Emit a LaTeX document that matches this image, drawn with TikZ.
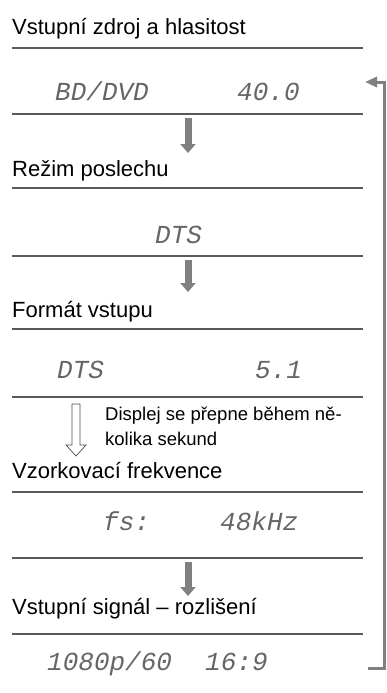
\documentclass[tikz,border=0pt]{standalone}
\usepackage{fontspec}
\setmainfont{Liberation Sans}
\newfontfamily\dispfont{Liberation Mono}
\usetikzlibrary{arrows.meta}

\begin{document}
\begin{tikzpicture}[x=1pt, y=-1pt,
  title/.style={anchor=base west, inner sep=0pt,
    font=\fontsize{22}{24}\selectfont},
  note/.style={anchor=base west, inner sep=0pt,
    font=\fontsize{18.5}{22}\selectfont},
  disp/.style={anchor=base west, inner sep=0pt, text=black!60,
    font=\dispfont\itshape\fontsize{26}{28}\selectfont},
  rule/.style={line width=1.2pt, black!65},
  flowarr/.style={line width=7pt, black!50,
    -{Triangle[width=15pt, length=9pt]}},
  looparr/.style={line width=3pt, black!50,
    -{Triangle[width=10pt, length=12pt]}}]
  \useasboundingbox (0,0) rectangle (386,693);

  % separator lines
  \foreach \y in {48,114,188,256,329,397,492,558,634}
    \draw[rule] (12,\y) -- (363,\y);

  % input source and volume
  \node[title] (srcT) at (12,35) {Vstupní zdroj a hlasitost};
  \node[disp] (srcA) at (55,100) {BD/DVD};
  \node[disp] (srcB) at (237,100) {40.0};

  % listening mode
  \node[title] (modeT) at (12,176) {Režim poslechu};
  \node[disp] (modeA) at (155,243) {DTS};

  % input format
  \node[title] (fmtT) at (12,317) {Formát vstupu};
  \node[disp] (fmtA) at (57,378) {DTS};
  \node[disp] (fmtB) at (255,378) {5.1};

  % note
  \node[note] (note1) at (105,420) {Displej se přepne během ně-};
  \node[note] (note2) at (105,445) {kolika sekund};

  % sampling frequency
  \node[title] (fsT) at (12,478) {Vzorkovací frekvence};
  \node[disp] (fsA) at (103,530) {fs:};
  \node[disp] (fsB) at (220,530) {48kHz};

  % input signal - resolution
  \node[title] (resT) at (12,614) {Vstupní signál – rozlišení};
  \node[disp] (resA) at (47,670) {1080p/60};
  \node[disp] (resB) at (205,670) {16:9};

  % arrow ends
  \coordinate (a1s) at (188,118);
  \coordinate (a1e) at (188,153);
  \coordinate (a2s) at (188,260);
  \coordinate (a2e) at (188,292);
  \coordinate (a3s) at (188,562);
  \coordinate (a3e) at (188,596);
  \coordinate (loopS) at (368,668);
  \coordinate (loopE) at (365,82);

  \draw[flowarr] (a1s) -- (a1e);
  \draw[flowarr] (a2s) -- (a2e);
  \draw[flowarr] (a3s) -- (a3e);

  % hollow arrow
  \draw[line width=0.7pt, black!70] (72,404) -- (80,404) -- (80,445)
    -- (86,445) -- (76,456) -- (66,445) -- (72,445) -- cycle;

  % back to start
  \draw[looparr] (loopS) -- (384,668) -- (384,82) -- (loopE);
\end{tikzpicture}
\end{document}
